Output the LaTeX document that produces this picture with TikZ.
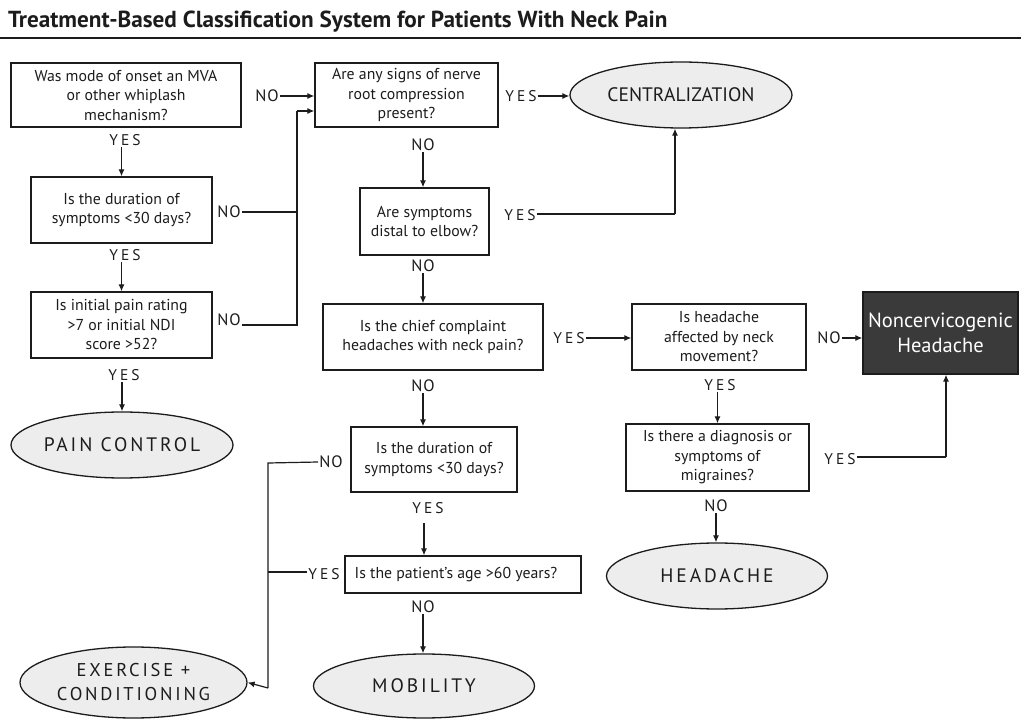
\documentclass[tikz,border=0pt]{standalone}
\usepackage{fontspec}
\setmainfont{PT Sans}
\newfontfamily\trk[LetterSpace=20]{PT Sans}
\newfontfamily\trko[LetterSpace=15]{PT Sans}
\newfontfamily\trkn[LetterSpace=5]{PT Sans}
\usetikzlibrary{arrows.meta,shapes.geometric}
\definecolor{ink}{HTML}{1C1C1C}
\definecolor{ovalfill}{HTML}{EDEDED}
\definecolor{darkbox}{HTML}{3A3A3A}
\begin{document}
\begin{tikzpicture}[x=1pt,y=-1pt,
  box/.style={draw=ink, line width=1.3pt, rectangle, inner sep=0pt, align=center,
    font=\fontsize{15.8}{19.5}\selectfont, text=ink},
  oval/.style={draw=ink, line width=1.3pt, ellipse, fill=ovalfill, inner sep=0pt,
    align=center, text=ink},
  ovaltxt/.style={font=\trko\fontsize{19.5}{21}\selectfont},
  yeslbl/.style={inner sep=1pt, text=ink, font=\trk\fontsize{15.5}{17}\selectfont},
  nolbl/.style={inner sep=1pt, text=ink, font=\trkn\fontsize{16.5}{18}\selectfont},
  arr/.style={line width=1.2pt, draw=ink, -{Latex[length=7pt,width=6pt]}},
  ln/.style={line width=1.2pt, draw=ink},
]
\useasboundingbox (0,0) rectangle (1021,719);

% title
\node[anchor=base west, inner sep=0pt, text=ink, font=\bfseries\fontsize{23.2}{26}\selectfont] (title) at (8,28)
  {Treatment-Based Classification System for Patients With Neck Pain};
\coordinate (rl) at (0,38);
\coordinate (rr) at (1021,38);
\draw[line width=1.6pt, draw=ink] (rl) -- (rr);

% left column
\node[box, minimum width=230pt, minimum height=64pt] (b1) at (126,95)
  {Was mode of onset an MVA\\or other whiplash\\mechanism?};
\node[box, minimum width=181pt, minimum height=66pt] (b2) at (121.5,210)
  {Is the duration of\\symptoms <30 days?};
\node[box, minimum width=181pt, minimum height=66pt] (b3) at (121.5,325)
  {Is initial pain rating\\>7 or initial NDI\\score >52?};
\node[oval, ovaltxt, minimum width=222pt, minimum height=66pt] (pc) at (122,445)
  {PAIN CONTROL};
\node[oval, minimum width=227pt, minimum height=71pt, font=\trko\fontsize{18.5}{24}\selectfont] (ex) at (133.5,682.5)
  {EXERCISE +\\CONDITIONING};

% middle column
\node[box, minimum width=183pt, minimum height=64pt] (b4) at (406.5,95)
  {Are any signs of nerve\\root compression\\present?};
\node[oval, minimum width=222pt, minimum height=66pt, font=\fontsize{19.5}{22}\selectfont] (cent) at (681,95)
  {CENTRALIZATION};
\node[box, minimum width=129pt, minimum height=67pt] (b5) at (424.5,221.5)
  {Are symptoms\\distal to elbow?};
\node[box, minimum width=220pt, minimum height=66pt] (b6) at (433,337)
  {Is the chief complaint\\headaches with neck pain?};
\node[box, minimum width=166pt, minimum height=65pt] (b7) at (434,459.5)
  {Is the duration of\\symptoms <30 days?};
\node[box, minimum width=236pt, minimum height=37pt] (b8) at (463,574.5)
  {Is the patient's age >60 years?\hspace*{14pt}};
\node[oval, ovaltxt, minimum width=221pt, minimum height=64pt] (mob) at (424,686)
  {MOBILITY};

% right column
\node[box, minimum width=174pt, minimum height=66pt] (b9) at (719,337)
  {Is headache\\affected by neck\\movement?};
\node[box, minimum width=183pt, minimum height=67pt] (b10) at (717.5,457.5)
  {Is there a diagnosis or\\symptoms of\\migraines?};
\node[oval, ovaltxt, minimum width=221pt, minimum height=66pt] (hd) at (717,576)
  {HEADACHE};
\node[rectangle, draw=ink, line width=1.3pt, fill=darkbox, text=white, align=center, inner sep=0pt,
  minimum width=155pt, minimum height=82pt, font=\fontsize{20.5}{25}\selectfont] (nc) at (940.5,333)
  {Noncervicogenic\\Headache};

% labels
\node[nolbl] (l1) at (267,96) {NO};
\node[yeslbl] (l2) at (125,140) {YES};
\node[nolbl] (l3) at (229,212) {NO};
\node[yeslbl] (l4) at (125,255) {YES};
\node[nolbl] (l5) at (229,320) {NO};
\node[yeslbl] (l6) at (124,375) {YES};
\node[yeslbl] (l7) at (521,96) {YES};
\node[nolbl] (l8) at (423,145) {NO};
\node[yeslbl] (l9) at (520,215) {YES};
\node[nolbl] (l10) at (423,266) {NO};
\node[yeslbl] (l11) at (569,338) {YES};
\node[nolbl] (l12) at (423,386) {NO};
\node[nolbl] (l13) at (331,462) {NO};
\node[yeslbl] (l14) at (428,508) {YES};
\node[yeslbl] (l15) at (324,574) {YES};
\node[nolbl] (l16) at (423,607) {NO};
\node[nolbl] (l17) at (829,338) {NO};
\node[yeslbl] (l18) at (720,385) {YES};
\node[yeslbl] (l19) at (840,459) {YES};
\node[nolbl] (l20) at (716,506) {NO};

% junction coordinates
\coordinate (j1) at (297,212);
\coordinate (j2) at (297,325);
\coordinate (j3) at (297,111);
\coordinate (j4) at (268,463);
\coordinate (j5) at (268,572);
\coordinate (j6) at (268,688);
\coordinate (j7) at (675,214);
\coordinate (j8) at (946,457);
\coordinate (k1) at (424,523);

% connectors
\draw[arr] (l1.east) -- (l1.east -| b4.west);
\draw[arr] (l2.south -| b2.north) -- (b2.north);
\draw[ln] (l3.east) -- (j1);
\draw[arr] (l4.south -| b3.north) -- (b3.north);
\draw[ln] (l5.east |- j2) -- (j2) -- (j3);
\draw[arr] (j3) -- (j3 -| b4.west);
\draw[arr] (l6.south -| pc.north) -- (pc.north);
\draw[arr] (l7.east) -- (l7.east -| cent.west);
\draw[arr] (l8.south) -- (l8.south |- b5.north);
\draw[ln] (l9.east |- j7) -- (j7);
\draw[arr] (j7) -- ([xshift=-6pt]cent.south);
\draw[arr] (l10.south) -- (l10.south |- b6.north);
\draw[arr] (l11.east) -- (l11.east -| b9.west);
\draw[arr] (l12.south) -- (l12.south |- b7.north);
\draw[ln] (l13.west) -- (j4) -- (j6);
\draw[ln] (l15.west |- j5) -- (j5);
\draw[arr] (j6) -- (ex.east);
\draw[arr] (k1) -- (k1 |- b8.north);
\draw[arr] (l16.south) -- (l16.south |- mob.north);
\draw[arr] (l17.east) -- (l17.east -| nc.west);
\draw[arr] (l18.south -| b10.north) -- (b10.north);
\draw[ln] (l19.east |- j8) -- (j8);
\draw[arr] (j8) -- (j8 |- nc.south);
\draw[arr] (l20.south) -- (l20.south |- hd.north);
\end{tikzpicture}
\end{document}
